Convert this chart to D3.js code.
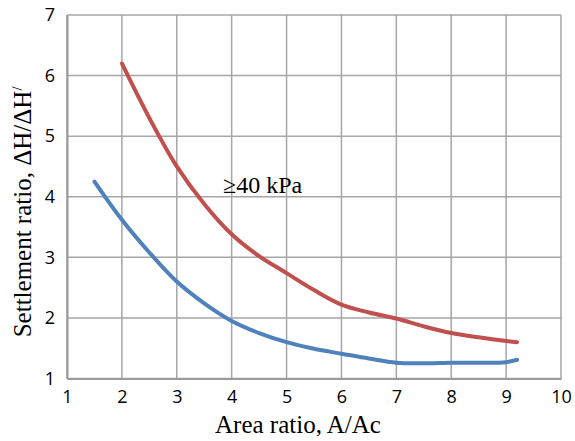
<!DOCTYPE html>
<html>
<head>
<meta charset="utf-8">
<script src="https://cdn.jsdelivr.net/npm/d3@7"></script>
<style>
  body { margin: 0; background: #fff; }
</style>
</head>
<body>
<svg id="chart" width="575" height="441"></svg>
<script>
// area ratio vs settlement ratio, two curves
const redX = [2, 2.5, 3, 3.5, 4, 4.5, 5, 5.5, 6, 6.5, 7, 7.5, 8, 8.5, 9, 9.2];
const redY = [6.2, 5.3, 4.5, 3.88, 3.38, 3.02, 2.74, 2.46, 2.22, 2.09, 1.99, 1.86, 1.75, 1.68, 1.62, 1.6];
const blueX = [1.5, 2, 2.5, 3, 3.5, 4, 4.5, 5, 5.5, 6, 6.5, 7, 7.5, 8, 8.5, 9, 9.2];
const blueY = [4.25, 3.62, 3.08, 2.6, 2.24, 1.95, 1.75, 1.6, 1.49, 1.41, 1.33, 1.26, 1.25, 1.26, 1.26, 1.27, 1.31];
const xTicks = [1, 2, 3, 4, 5, 6, 7, 8, 9, 10];
const yTicks = [1, 2, 3, 4, 5, 6, 7];

const svg = d3.select("#chart");
const x = d3.scaleLinear().domain([1, 10]).range([67, 561]);
const y = d3.scaleLinear().domain([1, 7]).range([378.5, 15]);
const serif = "Liberation Serif, Times New Roman, serif";

// gridlines
svg.append("g").selectAll("line").data(xTicks).join("line")
  .attr("x1", d => x(d)).attr("x2", d => x(d))
  .attr("y1", y(1)).attr("y2", y(7))
  .attr("stroke", "#a6a6a6").attr("stroke-width", 1.5);
svg.append("g").selectAll("line").data(yTicks).join("line")
  .attr("x1", x(1)).attr("x2", x(10))
  .attr("y1", d => y(d)).attr("y2", d => y(d))
  .attr("stroke", "#a6a6a6").attr("stroke-width", 1.5);

// axes
const xAxis = svg.append("g").attr("transform", `translate(0,${y(1)})`)
  .call(d3.axisBottom(x).tickValues(xTicks).tickFormat(d3.format("d")).tickSize(0).tickPadding(12));
const yAxis = svg.append("g").attr("transform", `translate(${x(1)},0)`)
  .call(d3.axisLeft(y).tickValues(yTicks).tickFormat(d3.format("d")).tickSize(0).tickPadding(12));
[xAxis, yAxis].forEach(a => {
  a.select(".domain").attr("stroke", "#9a9a9a").attr("stroke-width", 2);
  a.selectAll("text").attr("font-family", "Open Sans, sans-serif")
    .attr("font-size", 18).attr("fill", "#000");
});

const line = d3.line().x(d => x(d[0])).y(d => y(d[1])).curve(d3.curveCatmullRom);

svg.append("path")
  .attr("d", line(d3.zip(blueX, blueY)))
  .attr("fill", "none").attr("stroke", "#4f81bd")
  .attr("stroke-width", 4).attr("stroke-linecap", "round");
svg.append("path")
  .attr("d", line(d3.zip(redX, redY)))
  .attr("fill", "none").attr("stroke", "#c0504d")
  .attr("stroke-width", 4).attr("stroke-linecap", "round");

// label
svg.append("text")
  .attr("x", 223).attr("y", 193)
  .attr("font-family", serif)
  .attr("font-size", 24)
  .text("≥40 kPa");

// axis titles
svg.append("text")
  .attr("x", 298).attr("y", 433)
  .attr("text-anchor", "middle")
  .attr("font-family", serif)
  .attr("font-size", 25)
  .text("Area ratio, A/Ac");

const yt = svg.append("text")
  .attr("transform", "translate(31,212) rotate(-90)")
  .attr("text-anchor", "middle")
  .attr("font-family", serif)
  .attr("font-size", 25);
yt.append("tspan").text("Settlement ratio, \u0394H/\u0394H");
yt.append("tspan").attr("font-size", 14).attr("dy", -9).text("/");
</script>
</body>
</html>
